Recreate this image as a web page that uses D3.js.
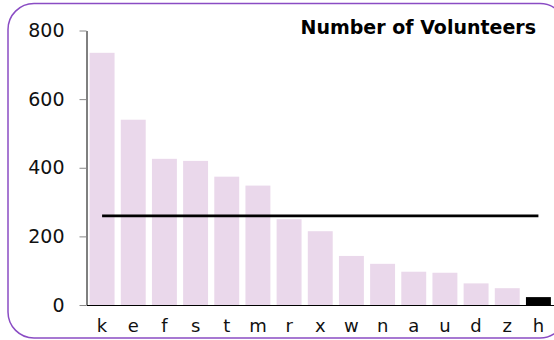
<!DOCTYPE html>
<html>
<head>
<meta charset="utf-8">
<script src="https://cdn.jsdelivr.net/npm/d3@7"></script>
<style>
  html, body { margin: 0; padding: 0; background: #fff; }
  svg { display: block; font-family: "DejaVu Sans", Verdana, sans-serif; }
</style>
</head>
<body>
<svg id="chart" width="554" height="340"></svg>
<script>
// Volunteers per group, sorted from largest to smallest
const categories = ["k", "e", "f", "s", "t", "m", "r", "x", "w", "n", "a", "u", "d", "z", "h"];
const volunteers = [735, 540, 426, 420, 374, 348, 250, 215, 143, 120, 97, 94, 63, 49, 23];
const yTicks = [0, 200, 400, 600, 800];
const highlighted = "h";
const chartTitle = "Number of Volunteers";

const svg = d3.select("#chart");

// rounded frame
svg.append("rect")
  .attr("x", 8).attr("y", 3.5)
  .attr("width", 558).attr("height", 334.5)
  .attr("rx", 26).attr("ry", 26)
  .attr("fill", "#fff")
  .attr("stroke", "#8a4cc4")
  .attr("stroke-width", 1.5);

const x = d3.scaleBand()
  .domain(categories)
  .range([86.5, 554])
  .paddingInner(0.2)
  .paddingOuter(0.1);

const y = d3.scaleLinear()
  .domain([0, 800])
  .range([305, 30.5]);

// bars
svg.append("g")
  .selectAll("rect")
  .data(categories.map((c, i) => ({ c, v: volunteers[i] })))
  .join("rect")
  .attr("x", d => x(d.c))
  .attr("y", d => y(d.v))
  .attr("width", x.bandwidth())
  .attr("height", d => y(0) - y(d.v))
  .attr("fill", d => d.c === highlighted ? "#000" : "#ead8eb");

// y axis
const yAxis = svg.append("g")
  .attr("transform", "translate(86.5,0)")
  .call(d3.axisLeft(y).tickValues(yTicks).tickSize(7).tickSizeOuter(0).tickPadding(15));
yAxis.select(".domain").attr("stroke", "#000");
yAxis.selectAll(".tick line").attr("stroke", "#888");
yAxis.selectAll(".tick text")
  .attr("font-size", 19)
  .attr("font-family", "DejaVu Sans, Verdana, sans-serif")
  .attr("fill", "#111");

// x axis
const xAxis = svg.append("g")
  .attr("transform", "translate(0,305)")
  .call(d3.axisBottom(x).tickSize(0).tickSizeOuter(0).tickPadding(14));
xAxis.select(".domain").attr("stroke", "#000");
xAxis.selectAll(".tick text")
  .attr("font-size", 18)
  .attr("font-family", "DejaVu Sans, Verdana, sans-serif")
  .attr("fill", "#111");

// average line across the bars
const mean = d3.mean(volunteers);
svg.append("line")
  .attr("x1", x(categories[0]) + x.bandwidth() / 2)
  .attr("x2", x(categories[categories.length - 1]) + x.bandwidth() / 2)
  .attr("y1", y(mean)).attr("y2", y(mean))
  .attr("stroke", "#000")
  .attr("stroke-width", 2.8);

// title
svg.append("text")
  .attr("x", 536).attr("y", 34)
  .attr("text-anchor", "end")
  .attr("font-size", 19)
  .attr("font-weight", "bold")
  .attr("fill", "#000")
  .text(chartTitle);
</script>
</body>
</html>
